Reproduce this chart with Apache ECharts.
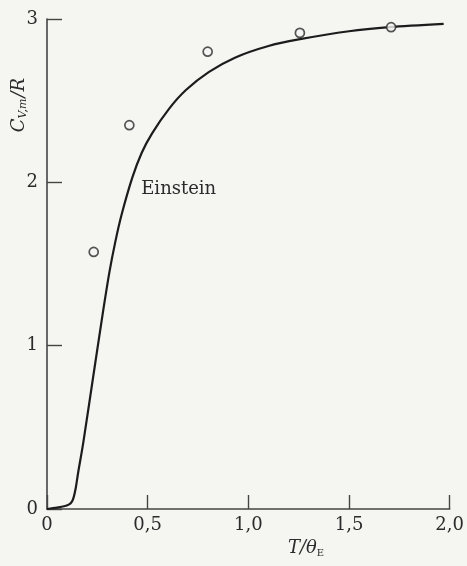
<!DOCTYPE html>
<html>
<head>
<meta charset="utf-8">
<script src="https://cdn.jsdelivr.net/npm/echarts@6/dist/echarts.min.js"></script>
<style>
  html, body { margin: 0; padding: 0; background: #f5f5f2; }
  #chart { width: 467px; height: 566px; }
</style>
</head>
<body>
<div id="chart"></div>
<script>
// Reduced temperature T/θE
const curveT = [0, 0.05, 0.09, 0.11, 0.122, 0.132, 0.143, 0.155, 0.18, 0.227,
  0.276, 0.31, 0.34, 0.37, 0.424, 0.47, 0.522, 0.606, 0.69, 0.803,
  0.936, 1.1, 1.25, 1.5, 1.7, 1.97];
// Einstein model molar heat capacity C_V,m / R
const curveC = [0, 0.008, 0.018, 0.028, 0.042, 0.07, 0.13, 0.225, 0.405, 0.79,
  1.19, 1.45, 1.64, 1.80, 2.03, 2.18, 2.30, 2.45, 2.565, 2.675,
  2.765, 2.835, 2.875, 2.925, 2.95, 2.97];

// Measured points
const measT = [0.232, 0.409, 0.798, 1.256, 1.709];
const measC = [1.574, 2.35, 2.80, 2.915, 2.95];

// Tick labels
const xTickLabels = ['0', '0,5', '1,0', '1,5', '2,0'];
const yTickLabels = ['0', '1', '2', '3'];

const curveLabel = 'Einstein';
const curveLabelAt = [0.468, 1.96];

const serif = 'DejaVu Serif';
const ink = '#2b2b2b';

const chart = echarts.init(document.getElementById('chart'));

chart.setOption({
  backgroundColor: '#f5f5f2',
  animation: false,
  grid: { left: 47, right: 14, top: 19, bottom: 57 },
  xAxis: {
    type: 'value', min: 0, max: 2, interval: 0.5,
    axisLine: { lineStyle: { color: '#444', width: 1.6 } },
    axisTick: { inside: true, length: 14, lineStyle: { color: '#444', width: 1.4 } },
    splitLine: { show: false },
    axisLabel: {
      color: ink, fontFamily: serif, fontSize: 18, margin: 7,
      formatter: v => xTickLabels[Math.round(v / 0.5)]
    }
  },
  yAxis: {
    type: 'value', min: 0, max: 3, interval: 1,
    axisLine: { show: true, lineStyle: { color: '#444', width: 1.6 } },
    axisTick: { show: true, inside: true, length: 15, lineStyle: { color: '#444', width: 1.4 } },
    splitLine: { show: false },
    axisLabel: {
      color: ink, fontFamily: serif, fontSize: 18, margin: 9,
      formatter: v => yTickLabels[Math.round(v)]
    }
  },
  series: [
    {
      type: 'line',
      data: curveT.map((t, i) => [t, curveC[i]]),
      smooth: 0.3,
      showSymbol: false,
      lineStyle: { color: '#1c1c1c', width: 2.2 },
      z: 2
    },
    {
      type: 'scatter',
      data: measT.map((t, i) => [t, measC[i]]),
      symbol: 'circle',
      symbolSize: 9,
      itemStyle: { color: '#f5f5f2', borderColor: '#2a2a2a', borderWidth: 1.7 },
      z: 3
    }
  ]
});

const labelPos = chart.convertToPixel({ gridIndex: 0 }, curveLabelAt);

chart.setOption({
  graphic: [
    {
      type: 'text',
      x: labelPos[0], y: labelPos[1],
      style: {
        text: curveLabel, fill: ink, font: '18px "DejaVu Serif"',
        textAlign: 'left', textVerticalAlign: 'middle'
      }
    },
    {
      type: 'text',
      x: 19, y: 105,
      rotation: Math.PI / 2,
      style: {
        text: '{i|C}{s|V,m}{i|/R}',
        fill: ink,
        textAlign: 'center', textVerticalAlign: 'middle',
        rich: {
          i: { fontFamily: serif, fontStyle: 'italic', fontSize: 18, fill: ink },
          s: { fontFamily: serif, fontStyle: 'italic', fontSize: 11, fill: ink, padding: [9, 1, 0, 0] }
        }
      }
    },
    {
      type: 'text',
      x: 306, y: 548,
      style: {
        text: '{i|T/θ}{s|E}',
        fill: ink,
        textAlign: 'center', textVerticalAlign: 'middle',
        rich: {
          i: { fontFamily: serif, fontStyle: 'italic', fontSize: 18, fill: ink },
          s: { fontFamily: serif, fontSize: 10, fill: ink, padding: [10, 0, 0, 0] }
        }
      }
    }
  ]
});
</script>
</body>
</html>
